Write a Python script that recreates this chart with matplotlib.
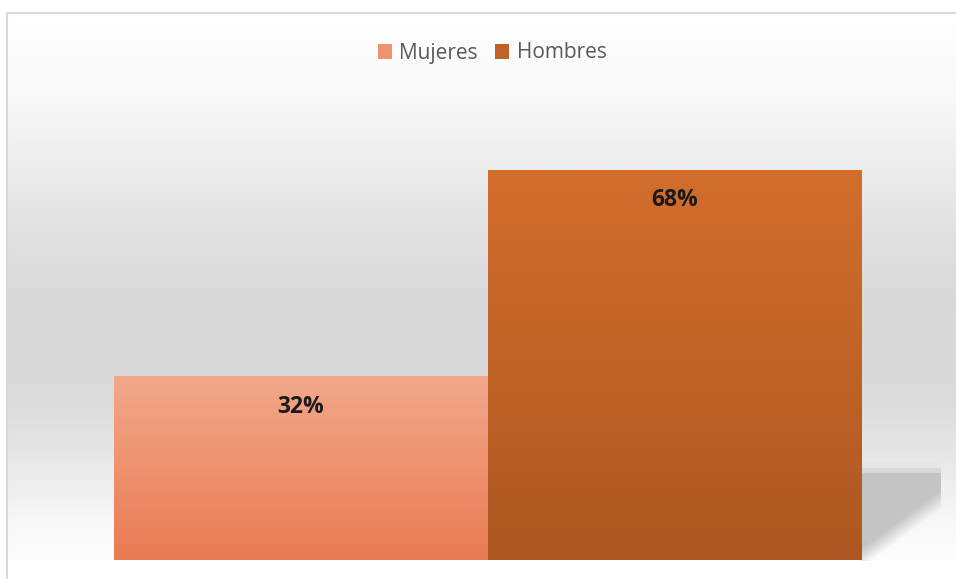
import numpy as np
import matplotlib.pyplot as plt
from matplotlib.colors import LinearSegmentedColormap
from matplotlib.patches import Patch

categorias = ["Mujeres", "Hombres"]
valores = [32, 68]
etiquetas = ["32%", "68%"]

# gradient colours (top, bottom)
col_muj = ("#f2a88b", "#ea7b53")
col_hom = ("#d36e2c", "#ad5722")
col_leg = ["#ee9270", "#c0622a"]

W, H = 956, 579
fig = plt.figure(figsize=(W / 100, H / 100), dpi=100)
fig.patch.set_facecolor("white")

# background panel with vertical gradient (pixel coordinates)
bg = fig.add_axes([0, 0, 1, 1], zorder=0)
bg.set_xlim(0, W)
bg.set_ylim(H, 0)
bg.axis("off")

stops_y = [12, 100, 170, 250, 300, 400, 470, 520, 560]
stops_v = [1.0, 0.975, 0.925, 0.875, 0.85, 0.86, 0.92, 0.97, 0.995]
yy = np.arange(12, 561)
vv = np.interp(yy, stops_y, stops_v)
grad = np.repeat(vv[:, None, None], 3, axis=2)
bg.imshow(grad, aspect="auto", extent=[7, W, 561, 12], interpolation="nearest")

# shadow behind the second bar
sx0, sx1, sy0, sy1 = 861, 941, 463, 561
xs = np.arange(sx0, sx1) + 0.5
ys = np.arange(sy0, sy1) + 0.5
X, Y = np.meshgrid(xs, ys)
shade = np.full(X.shape, 0.77)
shade[Y < 468] = 0.9
shade[(Y >= 468) & (Y < 473)] = 0.85
# diagonal fade at lower right
nx, ny = 55.0, 74.0
nrm = np.hypot(nx, ny)
d = ((X - 940) * nx + (Y - 500) * ny) / nrm
alpha = np.clip(0.5 - d / 16.0, 0, 1)
rgba = np.zeros(X.shape + (4,))
rgba[..., 0] = shade
rgba[..., 1] = shade
rgba[..., 2] = shade
rgba[..., 3] = alpha
bg.imshow(rgba, aspect="auto", extent=[sx0, sx1, sy1, sy0], interpolation="nearest")

# frame lines (left and top)
bg.plot([7.5, 7.5], [12.5, H], color="#d9d9d9", lw=1.5)
bg.plot([7.5, W], [12.5, 12.5], color="#d9d9d9", lw=1.5)

# main chart
ax = fig.add_axes([114 / W, (H - 560) / H, (861 - 114) / W, 458.4 / H], zorder=1)
ax.patch.set_alpha(0)
bars = ax.bar(range(len(valores)), valores, width=1.0, color="none", edgecolor="none")
ax.set_xlim(-0.5, 1.5)
ax.set_ylim(0, 80)
ax.axis("off")

for bar, cols in zip(bars, [col_muj, col_hom]):
    cmap = LinearSegmentedColormap.from_list("g", [cols[1], cols[0]])
    x0, w, h = bar.get_x(), bar.get_width(), bar.get_height()
    g = np.linspace(0, 1, 256)[:, None]
    ax.imshow(g, cmap=cmap, aspect="auto", origin="lower",
              extent=[x0, x0 + w, 0, h], interpolation="bilinear", zorder=2)

for bar, txt in zip(bars, etiquetas):
    ax.annotate(txt, (bar.get_x() + bar.get_width() / 2, bar.get_height()),
                xytext=(0, -21.5), textcoords="offset points",
                ha="center", va="center", fontsize=16.5, fontweight="bold",
                family="Open Sans", color="#1a1a1a", zorder=3)

handles = [Patch(facecolor=c, edgecolor="none") for c in col_leg]
leg = fig.legend(handles, categorias, loc="center", bbox_to_anchor=(492 / W, 1 - 53 / H),
                 ncol=2, frameon=False, handlelength=0.7, handleheight=0.7,
                 handletextpad=0.35, columnspacing=0.8,
                 prop={"family": "Open Sans", "size": 15})
for t in leg.get_texts():
    t.set_color("#595959")

fig.savefig("out.png", dpi=100)
